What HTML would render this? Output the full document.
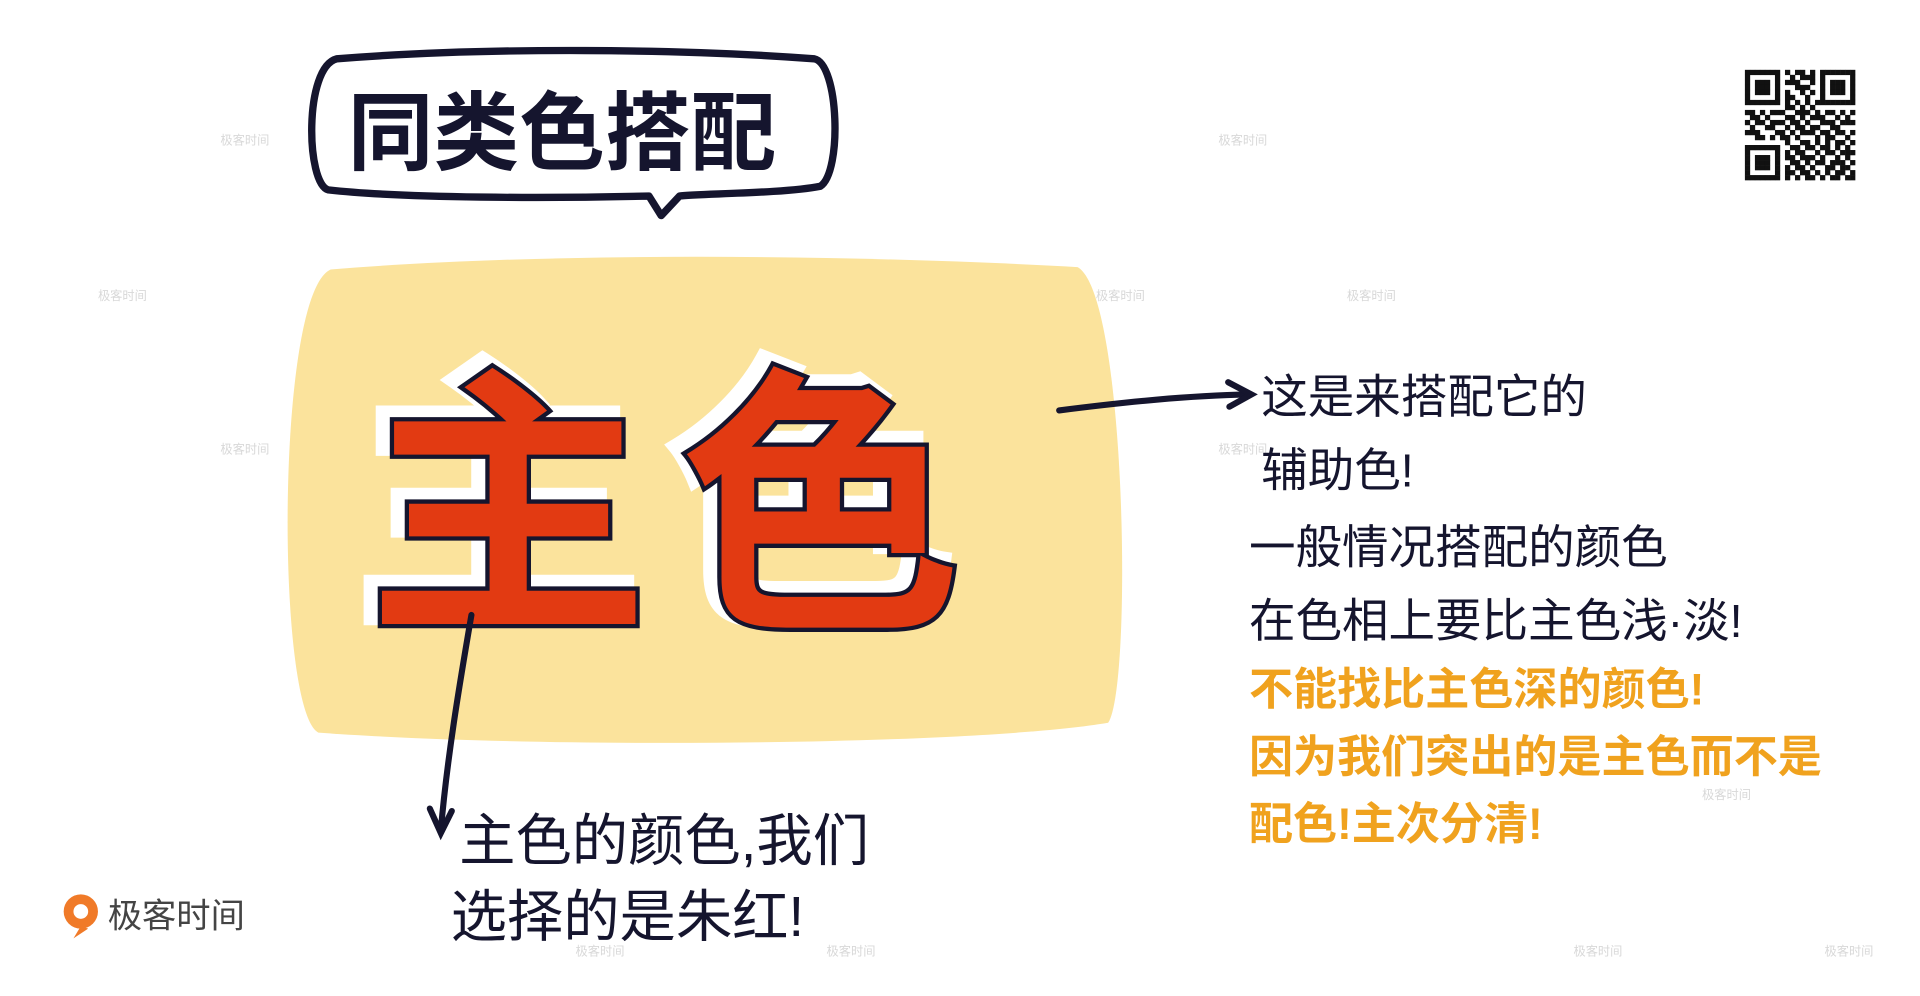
<!DOCTYPE html>
<html><head><meta charset="utf-8">
<style>
html,body{margin:0;padding:0;background:#fff;width:1920px;height:996px;overflow:hidden}
svg{display:block}
text{font-family:"Liberation Sans","WenQuanYi Zen Hei","Noto Sans CJK SC",sans-serif}
</style></head>
<body>
<svg width="1920" height="996" viewBox="0 0 1568 813" preserveAspectRatio="none" xmlns="http://www.w3.org/2000/svg">
<rect width="1568" height="813" fill="#ffffff"/>
<g fill="#d8d8d8" font-size="10">
<text x="180" y="118">极客时间</text><text x="995" y="118">极客时间</text>
<text x="80" y="245">极客时间</text><text x="285" y="245">极客时间</text><text x="895" y="245">极客时间</text><text x="1100" y="245">极客时间</text>
<text x="180" y="370">极客时间</text><text x="995" y="370">极客时间</text>
<text x="1390" y="652">极客时间</text><text x="470" y="780">极客时间</text><text x="675" y="780">极客时间</text>
<text x="1285" y="780">极客时间</text><text x="1490" y="780">极客时间</text>
</g>
<g>
<path d="M275,48 C400,38 560,40 665,48 C685,52 688,140 670,152 C640,158 570,158 555,160 L540,176 L530,160 C450,162 330,162 268,155 C250,150 248,55 275,48 Z" fill="#fff" stroke="#15152e" stroke-width="6" stroke-linejoin="round"/>
<text x="284" y="133" font-size="70" font-weight="bold" fill="#15152e">同类色搭配</text>
</g>
<path d="M270,220 C450,205 700,208 880,218 C920,240 925,560 905,590 C800,608 450,612 260,598 C225,580 225,240 270,220 Z" fill="#fbe39c"/>
<g font-size="230" font-weight="bold" letter-spacing="25">
<text x="292" y="490" fill="#ffffff" stroke="#ffffff" stroke-width="14">主色</text>
<text x="300" y="496" fill="#e23a12" stroke="#15152e" stroke-width="7" paint-order="stroke">主色</text>
</g>
<g stroke="#15152e" stroke-width="5" fill="none" stroke-linecap="round">
<path d="M865,335 C920,328 970,323 1020,322"/>
<path d="M1003,312 L1022,322 L1004,332"/>
</g>
<g stroke="#15152e" stroke-width="5" fill="none" stroke-linecap="round">
<path d="M385,502 C375,560 365,620 360,678"/>
<path d="M351,660 L360,680 L369,662"/>
</g>
<g font-size="38" fill="#15152e">
<text x="1030" y="337">这是来搭配它的</text>
<text x="1030" y="397">辅助色!</text>
<text x="1020" y="460">一般情况搭配的颜色</text>
<text x="1020" y="520">在色相上要比主色浅·淡!</text>
</g>
<g font-size="36" fill="#f0a21e" font-weight="bold">
<text x="1020" y="575">不能找比主色深的颜色!</text>
<text x="1020" y="630">因为我们突出的是主色而不是</text>
<text x="1020" y="685">配色!主次分清!</text>
</g>
<g font-size="46" fill="#15152e">
<text x="375" y="702">主色的颜色,我们</text>
<text x="368" y="764">选择的是朱红!</text>
</g>
<g id="qr"></g>
<g>
<circle cx="66" cy="744" r="14" fill="#f07a28"/>
<circle cx="66" cy="744" r="6" fill="#fff"/>
<path d="M66,756 L60,766 L72,758 Z" fill="#f07a28"/>
<text x="88" y="757" font-size="28" fill="#444">极客时间</text>
</g>
</svg>
<script>
const qrBits=["1111111010110101111111","1000001001011101000001","1011101011100101011101","1011101000111001011101","1011101010010101011101","1000001011001001000001","1111111010101011111111","0000000011010100000000","1101011100111010110101","0110100011010111001010","1011011101101001110111","0100110010110110011000","1110001101011101101101","0011010110100010110010","0000000010011010101101","1111111001101101101010","1000001010110010110111","1011101011011101001010","1011101001101011011101","1011101010110100110110","1000001011011010101101","1111111010101101011011"];
const g=document.getElementById('qr');
const x0=1425,y0=57,cs=90/22;
qrBits.forEach((row,r)=>{[...row].forEach((b,c)=>{if(b==='1'){const el=document.createElementNS('http://www.w3.org/2000/svg','rect');


el.setAttribute('x',x0+c*cs);el.setAttribute('y',y0+r*cs);el.setAttribute('width',cs+0.2);el.setAttribute('height',cs+0.2);el.setAttribute('fill','#111');g.appendChild(el);}})});
</script>
</body></html>
